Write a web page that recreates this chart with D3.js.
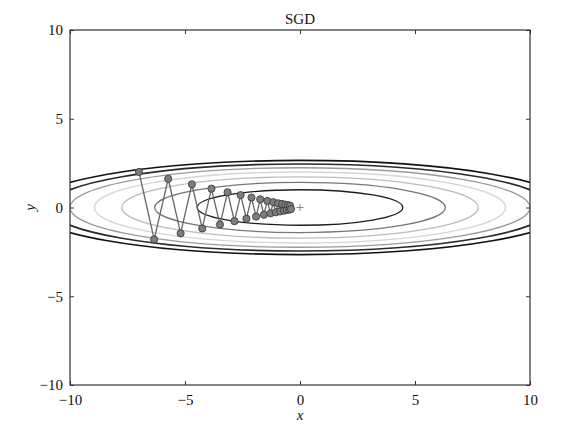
<!DOCTYPE html>
<html>
<head>
  <meta charset="utf-8">
  <title>SGD</title>
  <style>
    body { margin: 0; background: #fff; }
    text { font-family: "Liberation Serif", "DejaVu Serif", serif; fill: #111; }
  </style>
</head>
<body>
  <script src="https://d3js.org/d3.v7.min.js"></script>
  <script>
// contour levels of f(x, y) = x^2/20 + y^2, semi-axes
var levels   = [1, 2, 3, 4, 5, 6, 7];
var semiX    = [4.47, 6.32, 7.75, 8.94, 10.0, 10.95, 11.83];
var semiY    = [1.0, 1.41, 1.73, 2.0, 2.24, 2.45, 2.65];
var levelCol = ["#1c1c1c", "#777777", "#bdbdbd", "#d6d6d6", "#9a9a9a", "#2a2a2a", "#111111"];

// SGD path
var pathX = [-7.00, -6.34, -5.73, -5.19, -4.70, -4.25, -3.85, -3.48, -3.15, -2.85,
             -2.58, -2.33, -2.11, -1.91, -1.73, -1.57, -1.42, -1.28, -1.16, -1.05,
             -0.95, -0.86, -0.78, -0.70, -0.64, -0.58, -0.52, -0.47, -0.43, -0.39];
var pathY = [2.00, -1.80, 1.62, -1.46, 1.31, -1.18, 1.06, -0.96, 0.86, -0.77,
             0.70, -0.63, 0.56, -0.51, 0.46, -0.41, 0.37, -0.33, 0.30, -0.27,
             0.24, -0.22, 0.20, -0.18, 0.16, -0.14, 0.13, -0.12, 0.10, -0.09];

var ticks = [-10, -5, 0, 5, 10];

var W = 573, H = 427;
var plotL = 70, plotR = 530, plotT = 30, plotB = 385;

var svg = d3.select("body").append("svg")
  .attr("width", W)
  .attr("height", H);

var x = d3.scaleLinear().domain([-10, 10]).range([plotL, plotR]);
var y = d3.scaleLinear().domain([-10, 10]).range([plotB, plotT]);

svg.append("clipPath").attr("id", "clip")
  .append("rect")
  .attr("x", plotL).attr("y", plotT)
  .attr("width", plotR - plotL).attr("height", plotB - plotT);

var plot = svg.append("g").attr("clip-path", "url(#clip)");

// contours
plot.selectAll("ellipse")
  .data(levels)
  .enter()
  .append("ellipse")
  .attr("cx", x(0))
  .attr("cy", y(0))
  .attr("rx", function(d, i) { return x(semiX[i]) - x(0); })
  .attr("ry", function(d, i) { return y(0) - y(semiY[i]); })
  .attr("fill", "none")
  .attr("stroke", function(d, i) { return levelCol[i]; })
  .attr("stroke-width", function(d) { return d >= 6 ? 1.7 : 1.3; });

// minimum marker
plot.append("path")
  .attr("d", "M" + (x(0) - 3.5) + "," + y(0) + "H" + (x(0) + 3.5) +
             "M" + x(0) + "," + (y(0) - 3.5) + "V" + (y(0) + 3.5))
  .attr("stroke", "#888")
  .attr("stroke-width", 1);

// optimizer path
var pts = pathX.map(function(d, i) { return [d, pathY[i]]; });

plot.append("path")
  .datum(pts)
  .attr("fill", "none")
  .attr("stroke", "#666")
  .attr("stroke-width", 1.3)
  .attr("d", d3.line()
    .x(function(d) { return x(d[0]); })
    .y(function(d) { return y(d[1]); }));

plot.selectAll("circle")
  .data(pts)
  .enter()
  .append("circle")
  .attr("cx", function(d) { return x(d[0]); })
  .attr("cy", function(d) { return y(d[1]); })
  .attr("r", 3.6)
  .attr("fill", "#7d7d7d")
  .attr("stroke", "#333")
  .attr("stroke-width", 0.8);

// axes, ticks pointing inward on all sides
function styleAxis(g) {
  g.select(".domain").remove();
  g.selectAll(".tick line").attr("stroke", "#333").attr("stroke-width", 1);
  g.selectAll(".tick text").style("font-size", "15px").attr("fill", "#111");
}

svg.append("g")
  .attr("transform", "translate(0," + plotB + ")")
  .call(d3.axisBottom(x).tickValues(ticks).tickSize(-4).tickPadding(9))
  .call(styleAxis);

svg.append("g")
  .attr("transform", "translate(" + plotL + ",0)")
  .call(d3.axisLeft(y).tickValues(ticks).tickSize(-4).tickPadding(7))
  .call(styleAxis);

svg.append("g")
  .attr("transform", "translate(0," + plotT + ")")
  .call(d3.axisTop(x).tickValues(ticks).tickSize(-4).tickFormat(""))
  .call(styleAxis);

svg.append("g")
  .attr("transform", "translate(" + plotR + ",0)")
  .call(d3.axisRight(y).tickValues(ticks).tickSize(-4).tickFormat(""))
  .call(styleAxis);

// frame
svg.append("rect")
  .attr("x", plotL).attr("y", plotT)
  .attr("width", plotR - plotL).attr("height", plotB - plotT)
  .attr("fill", "none")
  .attr("stroke", "#333")
  .attr("stroke-width", 1.2);

// title and labels
svg.append("text")
  .attr("x", x(0))
  .attr("y", 24)
  .attr("text-anchor", "middle")
  .style("font-size", "15px")
  .text("SGD");

svg.append("text")
  .attr("x", x(0))
  .attr("y", 420)
  .attr("text-anchor", "middle")
  .style("font-size", "15px")
  .style("font-style", "italic")
  .text("x");

svg.append("text")
  .attr("transform", "translate(35," + y(0) + ") rotate(-90)")
  .attr("text-anchor", "middle")
  .style("font-size", "15px")
  .style("font-style", "italic")
  .text("y");
  </script>
</body>
</html>
